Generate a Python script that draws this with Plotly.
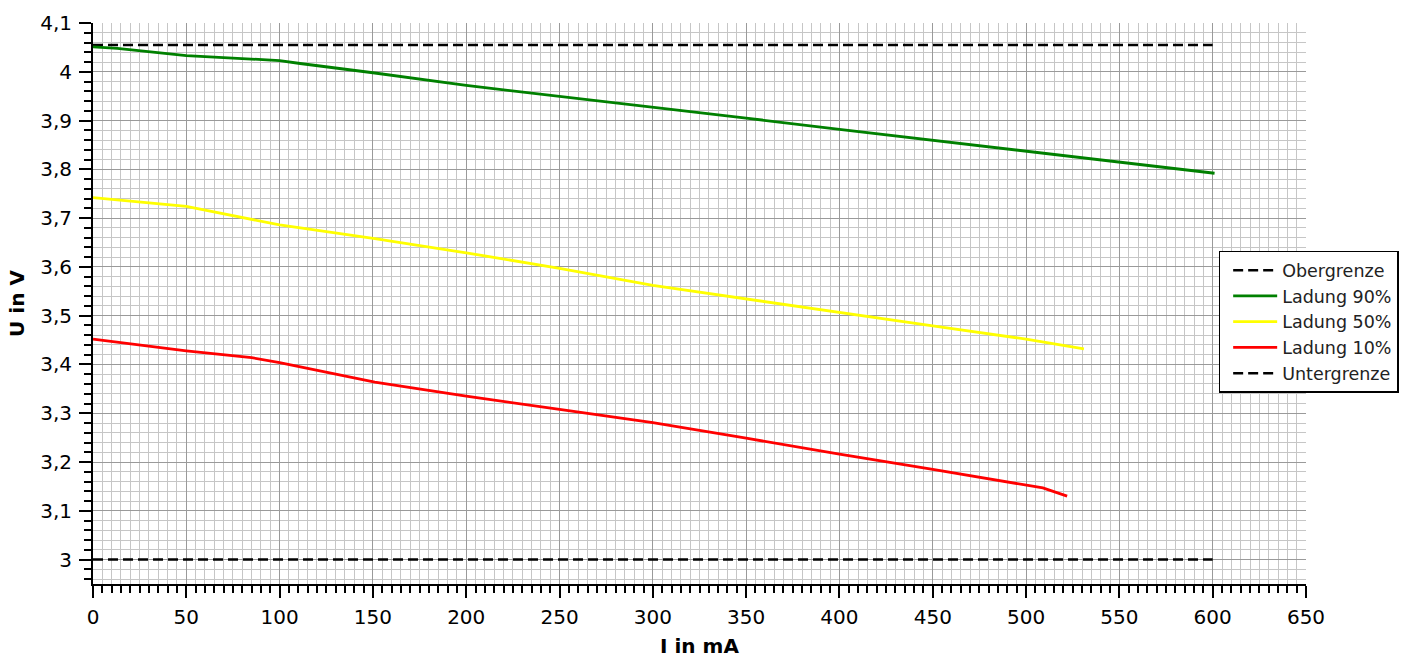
import plotly.graph_objects as go

# Measured terminal voltage vs. load current at three states of charge
current_90 = [0, 13, 50, 100, 111, 150, 200, 250, 300, 350, 400, 433, 500, 550, 601]
voltage_90 = [4.051, 4.048, 4.033, 4.023, 4.017, 3.998, 3.972, 3.950, 3.927, 3.905, 3.882, 3.867, 3.837, 3.814, 3.792]

current_50 = [0, 50, 100, 151, 200, 250, 300, 350, 400, 450, 500, 531]
voltage_50 = [3.742, 3.724, 3.686, 3.658, 3.629, 3.597, 3.562, 3.534, 3.506, 3.479, 3.452, 3.432]

current_10 = [0, 50, 85, 100, 151, 200, 250, 300, 350, 400, 450, 500, 509, 522]
voltage_10 = [3.452, 3.428, 3.414, 3.404, 3.364, 3.335, 3.308, 3.281, 3.249, 3.216, 3.185, 3.154, 3.147, 3.130]

# Voltage limits
limit_current = [0, 600]
upper_limit = [4.055, 4.055]
lower_limit = [3.0, 3.0]

FONT = "DejaVu Sans"

fig = go.Figure()
fig.add_trace(go.Scatter(x=limit_current, y=upper_limit, mode="lines", name="Obergrenze",
                         line=dict(color="black", width=2.5, dash="10px,5px")))
fig.add_trace(go.Scatter(x=current_90, y=voltage_90, mode="lines", name="Ladung 90%",
                         line=dict(color="#008000", width=2.8)))
fig.add_trace(go.Scatter(x=current_50, y=voltage_50, mode="lines", name="Ladung 50%",
                         line=dict(color="#ffff00", width=2.8)))
fig.add_trace(go.Scatter(x=current_10, y=voltage_10, mode="lines", name="Ladung 10%",
                         line=dict(color="#ff0000", width=2.8)))
fig.add_trace(go.Scatter(x=limit_current, y=lower_limit, mode="lines", name="Untergrenze",
                         line=dict(color="black", width=2.5, dash="10px,5px")))

fig.update_layout(
    width=1419, height=658,
    margin=dict(l=93, r=113, t=23, b=74),
    paper_bgcolor="white", plot_bgcolor="white",
    separators=",.",
    font=dict(family=FONT, size=20, color="black"),
    showlegend=True,
    legend=dict(
        x=0.928, y=0.594, xanchor="left", yanchor="top",
        bgcolor="white", bordercolor="black", borderwidth=1.5,
        font=dict(family=FONT, size=17.5, color="#222222"),
        tracegroupgap=0, indentation=8, itemwidth=44,
    ),
)

fig.update_xaxes(
    range=[0, 650], dtick=50, tick0=0, automargin=False,
    showline=True, linecolor="black", linewidth=2,
    ticks="outside", ticklen=12, tickwidth=2, tickcolor="black",
    showgrid=True, gridcolor="#9a9a9a", gridwidth=1.2,
    zeroline=False, ticklabelstandoff=2,
    minor=dict(dtick=5, tick0=0, ticks="outside", ticklen=7, tickwidth=1.5, tickcolor="black",
               showgrid=True, gridcolor="#c6c6c6", gridwidth=1.2),
    title=dict(text="<b>I in mA</b>", font=dict(family=FONT, size=20), standoff=13),
    tickfont=dict(family=FONT, size=20),
)
fig.update_yaxes(
    range=[2.95, 4.1], dtick=0.1, tick0=3, automargin=False,
    showline=True, linecolor="black", linewidth=2,
    ticks="outside", ticklen=12, tickwidth=2, tickcolor="black",
    showgrid=True, gridcolor="#9a9a9a", gridwidth=1.2,
    zeroline=False, ticklabelstandoff=3,
    minor=dict(dtick=0.02, tick0=3, ticks="outside", ticklen=7, tickwidth=1.5, tickcolor="black",
               showgrid=True, gridcolor="#c6c6c6", gridwidth=1.2),
    title=dict(text="<b>U in V</b>", font=dict(family=FONT, size=20), standoff=10),
    tickfont=dict(family=FONT, size=20),
)

fig.write_html("out.html")
